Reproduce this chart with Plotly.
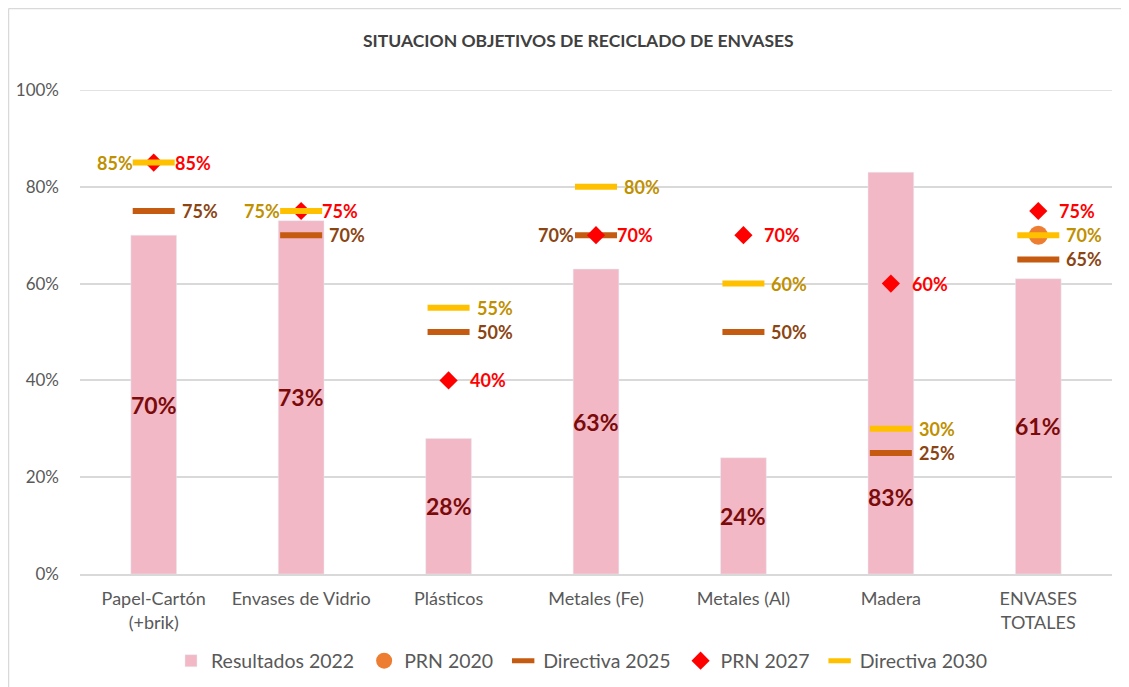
import plotly.graph_objects as go

categories = ["Papel-Cartón<br>(+brik)", "Envases de Vidrio", "Plásticos", "Metales (Fe)",
              "Metales (Al)", "Madera", "ENVASES<br>TOTALES"]
resultados_2022 = [70, 73, 28, 63, 24, 83, 61]
prn_2020 = [None, None, None, None, None, None, 70]
directiva_2025 = [75, 70, 50, 70, 50, 25, 65]
prn_2027 = [85, 75, 40, 70, 70, 60, 75]
directiva_2030 = [85, 75, 55, 80, 60, 30, 70]
series_names = ["Resultados 2022", "PRN 2020", "Directiva 2025", "PRN 2027", "Directiva 2030"]

# which side each value label sits on
side_2025 = ["right", "right", "right", "left", "right", "right", "right"]
side_2027 = ["right"] * 7
side_2030 = ["left", "left", "right", "right", "right", "right", "right"]

FONT = "Lato, 'Open Sans', sans-serif"
BAR_COLOR = "#F2B8C5"
C2020 = "#ED7D31"
C2025 = "#C55A11"
C2027 = "#FF0000"
C2030 = "#FFC000"

# page offset (browser body margin) compensation
OFF = 8
W, H = 1129 - OFF, 687 - OFF
L, R, T, B = 80 - OFF, 17, 90 - OFF, 113
PW, PH = W - L - R, H - T - B


def px_x(x):  # page x -> paper
    return (x - OFF - L) / PW


def px_y(y):  # page y -> paper
    return (H - B - (y - OFF)) / PH


PAD = "\u00a0"
legend_names = [n + PAD for n in series_names[:-1]] + [series_names[-1]]

fig = go.Figure()
fig.add_trace(go.Bar(x=categories, y=resultados_2022, name=legend_names[0],
                     marker=dict(color=BAR_COLOR), width=0.31, hoverinfo="x+y"))
fig.add_trace(go.Scatter(x=categories, y=prn_2020, name=legend_names[1], mode="markers",
                         marker=dict(symbol="circle", size=19, color=C2020)))
fig.add_trace(go.Scatter(x=categories, y=directiva_2025, name=legend_names[2], mode="markers",
                         marker=dict(symbol="line-ew", size=30, color=C2025,
                                     line=dict(width=6, color=C2025))))
fig.add_trace(go.Scatter(x=categories, y=prn_2027, name=legend_names[3], mode="markers",
                         marker=dict(symbol="diamond", size=14, color=C2027)))
fig.add_trace(go.Scatter(x=categories, y=directiva_2030, name=legend_names[4], mode="markers",
                         marker=dict(symbol="line-ew", size=30, color=C2030,
                                     line=dict(width=6, color=C2030))))

annotations = []
# bar value labels (centered in bar; Madera label lower)
bar_label_y = [v / 2 for v in resultados_2022]
bar_label_y[5] = 16
for c, v, yl in zip(categories, resultados_2022, bar_label_y):
    annotations.append(dict(x=c, y=yl, text=f"<b>{v}%</b>", showarrow=False,
                            font=dict(family=FONT, size=23, color="#7B0A0A")))


def add_labels(values, sides, color, rshift, lshift):
    for c, v, s in zip(categories, values, sides):
        if v is None:
            continue
        if s == "right":
            annotations.append(dict(x=c, y=v, text=f"<b>{v}%</b>", showarrow=False,
                                    xanchor="left", xshift=rshift,
                                    font=dict(family=FONT, size=18, color=color)))
        else:
            annotations.append(dict(x=c, y=v, text=f"<b>{v}%</b>", showarrow=False,
                                    xanchor="right", xshift=lshift,
                                    font=dict(family=FONT, size=18, color=color)))


add_labels(directiva_2025, side_2025, "#8B4513", 26, -20)
add_labels(prn_2027, side_2027, "#FF0000", 19, -20)
add_labels(directiva_2030, side_2030, "#BF9000", 26, -19)

annotations.append(dict(text="<b>SITUACION OBJETIVOS DE RECICLADO DE ENVASES</b>",
                        xref="paper", yref="paper", x=px_x(578), y=px_y(40),
                        showarrow=False, xanchor="center", yanchor="middle",
                        font=dict(family=FONT, size=17.5, color="#404040")))

fig.update_layout(
    width=W, height=H,
    margin=dict(l=L, r=R, t=T, b=B, autoexpand=False),
    paper_bgcolor="white", plot_bgcolor="white",
    font=dict(family=FONT, size=18, color="#595959"),
    showlegend=True,
    legend=dict(orientation="h", x=px_x(582), xanchor="center", y=px_y(661), yanchor="middle",
                font=dict(family=FONT, size=19.5, color="#595959"), itemwidth=30,
                tracegroupgap=0, traceorder="normal"),
    annotations=annotations,
    shapes=[
        dict(type="line", xref="paper", yref="paper", x0=px_x(8.5), x1=1.1,
             y0=px_y(8.5), y1=px_y(8.5), line=dict(color="#D9D9D9", width=1.5)),
        dict(type="line", xref="paper", yref="paper", x0=px_x(8.5), x1=px_x(8.5),
             y0=px_y(8.5), y1=-0.3, line=dict(color="#D9D9D9", width=1.5)),
        dict(type="line", xref="paper", yref="y", x0=0, x1=1, y0=100, y1=100,
             line=dict(color="#D9D9D9", width=1.5), layer="below"),
    ],
)
fig.update_xaxes(showgrid=False, showline=True, linecolor="#D9D9D9", linewidth=1.5,
                 ticks="", automargin=False, ticklabelstandoff=8,
                 tickfont=dict(family=FONT, size=18, color="#595959"))
fig.update_yaxes(range=[0, 100], dtick=20, ticksuffix="%", showgrid=True, gridcolor="#D9D9D9",
                 gridwidth=1.5, zeroline=False, showline=False, ticks="", automargin=False,
                 tickfont=dict(family=FONT, size=17, color="#595959"), ticklabelstandoff=20)

fig.write_html("out.html")
